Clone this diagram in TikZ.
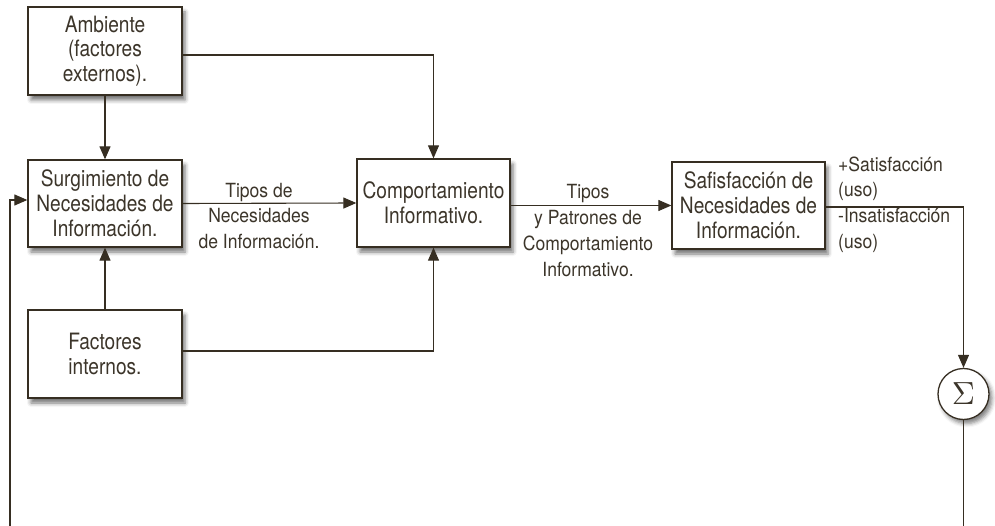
\documentclass[tikz,border=0pt]{standalone}
\usepackage[no-math]{fontspec}
\usepackage{graphicx}
\setmainfont{TeX Gyre Heros}[FakeStretch=0.85]
\newfontfamily\lblfont{TeX Gyre Heros}[FakeStretch=0.9]
\usetikzlibrary{arrows.meta,shadows.blur}
\definecolor{ink}{RGB}{54,46,34}
\definecolor{txt}{RGB}{60,53,42}
\tikzset{
  box/.style={draw=ink, line width=1.3pt, fill=white, minimum width=154pt, minimum height=88pt,
    align=center, inner sep=0pt, text=txt, font=\fontsize{22.5}{24.8}\selectfont,
    blur shadow={shadow xshift=3pt, shadow yshift=-5pt, shadow blur radius=4pt, shadow opacity=55}},
  sumnode/.style={draw=ink, line width=1.3pt, fill=white, circle, minimum size=51pt, inner sep=0pt,
    text=txt, blur shadow={shadow xshift=3pt, shadow yshift=-4pt, shadow blur radius=4pt, shadow opacity=50}},
  conn/.style={draw=ink, line width=1.1pt},
  arr/.style={conn, -{Triangle[length=13pt,width=11pt]}},
  lbl/.style={text=txt, inner sep=0pt, font=\lblfont\fontsize{19.5}{25.8}\selectfont}
}
\begin{document}
\begin{tikzpicture}[x=1pt,y=-1pt]
\useasboundingbox (0,0) rectangle (995,526);
\node[box] (amb) at (105,51) {Ambiente\\(factores\\externos).};
\node[box, minimum height=87pt] (surg) at (105,203.5) {Surgimiento de\\Necesidades de\\Información.};
\node[box] (fact) at (105,354) {Factores\\internos.};
\node[box, minimum width=153pt] (comp) at (433.5,203) {Comportamiento\\Informativo.};
\node[box, minimum width=153pt, minimum height=87pt] (sat) at (748.5,205.5) {Safisfacción de\\Necesidades de\\Información.};
\node[sumnode] (sum) at (963.5,394) {\scalebox{3.2}{$\Sigma$}};
\coordinate (fbL) at (10,526);
\coordinate (fbR) at (963.5,526);

\draw[arr] ([yshift=-4pt]amb.east) -| (comp.north);
\draw[arr] (amb.south) -- (surg.north);
\draw[arr] (fact.north) -- (surg.south);
\draw[arr] ([yshift=3pt]fact.east) -| (comp.south);
\draw[arr] (surg.east) -- (comp.west);
\draw[arr] (comp.east |- sat.west) -- (sat.west);
\draw[arr] ([yshift=-1.5pt]sat.east) -| (sum.north);
\draw[conn] (sum.south) -- (fbR);
\draw[arr] (fbL) |- ([yshift=3.5pt]surg.west);

\node[lbl, align=center] (l1) at (259,216) {Tipos de\\Necesidades\\de Información.};
\node[lbl, align=center] (l2) at (588,230.5) {Tipos\\y Patrones de\\Comportamiento\\Informativo.};
\node[lbl, align=left, anchor=west] (l3) at (838,204.5) {+Satisfacción\\(uso)\\-Insatisfacción\\(uso)};
\end{tikzpicture}
\end{document}
